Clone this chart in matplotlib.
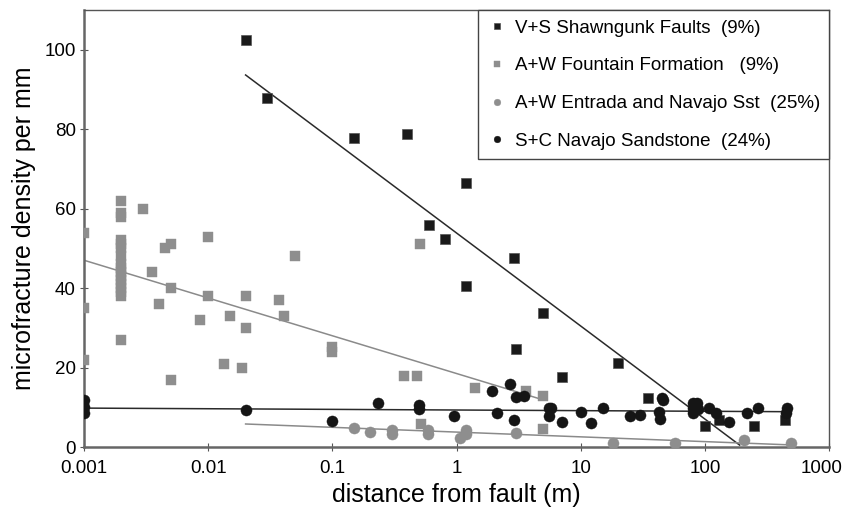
import numpy as np
import matplotlib
matplotlib.use('Agg')
import matplotlib.pyplot as plt
import matplotlib.transforms as mtransforms
from matplotlib.ticker import FixedLocator, NullLocator

plt.rcParams['font.family'] = ['Liberation Sans', 'DejaVu Sans']

# V+S Shawangunk Faults
vs_x = [0.02, 0.03, 0.15, 0.40, 1.2, 0.6, 0.81, 2.9, 1.2, 5.0, 3.0, 20, 7.1, 35, 100, 129, 247, 437]
vs_y = [102.5, 88, 77.8, 78.7, 66.4, 55.8, 52.3, 47.6, 40.5, 33.8, 24.8, 21.1, 17.6, 12.3, 5.3, 6.8, 5.3, 6.8]

# A+W Fountain Formation
fo_x = [0.001, 0.001, 0.001] + [0.002] * 17 + [
    0.003, 0.0035, 0.004, 0.0045, 0.005, 0.005, 0.005, 0.01, 0.01, 0.0086,
    0.015, 0.0134, 0.0186, 0.02, 0.02, 0.037, 0.041, 0.05,
    0.1, 0.1, 0.51, 0.375, 0.48, 1.4, 3.6, 5.0, 0.52, 5.0]
fo_y = [54, 35, 22, 62, 59, 58, 52, 51, 50, 48, 46, 45, 44, 43, 42, 41, 40, 39, 38, 27,
        60, 44, 36, 50, 51, 40, 17, 53, 38, 32,
        33, 21, 20, 38, 30, 37, 33, 48,
        25.3, 23.8, 51, 18, 18, 14.8, 14, 12.9, 5.8, 4.5]

# A+W Entrada and Navajo Sst
en_x = [0.15, 0.2, 0.3, 0.3, 0.59, 0.59, 1.06, 1.2, 1.2, 3.0, 18, 57, 204, 493]
en_y = [4.7, 3.9, 4.3, 3.3, 4.3, 3.3, 2.2, 4.3, 3.3, 3.5, 1.1, 0.9, 1.8, 1.1]

# S+C Navajo Sandstone
sc_x = [0.001, 0.001, 0.001, 0.02, 0.1, 0.233, 0.5, 0.5, 0.95, 1.93, 2.13, 2.71, 3.0,
        3.47, 2.88, 5.5, 5.5, 5.8, 7.0, 10, 12.1, 15.1, 24.7, 30.1, 42.3, 43, 44.6,
        45.5, 80, 86, 80, 87, 80, 107, 123, 155, 217, 269, 458, 450]
sc_y = [11.9, 10.2, 8.5, 9.2, 6.6, 11.2, 10.6, 9.5, 7.8, 14.0, 8.5, 15.8, 12.5,
        12.9, 6.8, 9.8, 7.7, 9.8, 6.4, 8.7, 6.0, 9.8, 7.9, 8.1, 8.7, 7.0, 12.3,
        11.9, 11.0, 11.1, 8.5, 9.5, 9.8, 9.8, 8.5, 6.4, 8.5, 9.8, 9.8, 8.5]

# trend lines: y = a + b*log10(x) over [x0, x1]
vs_fit = [53.87, -23.43, 0.02, 190]
fo_fit = [18.5, -9.51, 0.001, 4.8]
en_fit = [3.76, -1.2, 0.02, 500]
sc_fit = [9.32, -0.16, 0.001, 450]

fig = plt.figure(figsize=(8.45, 5.07), dpi=100)
ax = fig.add_axes([0.0994, 0.1183, 0.8820, 0.8617])


def trend(fit, color):
    a, b, x0, x1 = fit
    xs = np.array([x0, x1])
    ax.plot(xs, a + b * np.log10(xs), color=color, lw=1.1, zorder=2)


trend(vs_fit, '#2a2a2a')
trend(fo_fit, '#8a8a8a')
trend(en_fit, '#8a8a8a')
trend(sc_fit, '#2a2a2a')

ax.plot(vs_x, vs_y, 's', color='#1a1a1a', ms=7.5, mec='#555555', mew=0.5,
        label='V+S Shawngunk Faults  (9%)', zorder=3)
ax.plot(fo_x, fo_y, 's', color='#8e8e8e', ms=7.5, mec='#8e8e8e', mew=0.3,
        label='A+W Fountain Formation   (9%)', zorder=3)
ax.plot(en_x, en_y, 'o', color='#8e8e8e', ms=8, mec='#8e8e8e', mew=0.3,
        label='A+W Entrada and Navajo Sst  (25%)', zorder=3)
ax.plot(sc_x, sc_y, 'o', color='#151515', ms=8, mec='#151515', mew=0.3,
        label='S+C Navajo Sandstone  (24%)', zorder=3)

ax.set_xscale('log')
ax.set_xlim(0.001, 1000)
ax.set_ylim(0, 110)
ax.xaxis.set_major_locator(FixedLocator([0.001, 0.01, 0.1, 1, 10, 100, 1000]))
ax.xaxis.set_minor_locator(NullLocator())
ax.set_xticklabels(['0.001', '0.01', '0.1', '1', '10', '100', '1000'])
ax.set_yticks([0, 20, 40, 60, 80, 100])
ax.tick_params(labelsize=13.5, direction='inout', length=6, width=0.8, colors='#555555',
               labelcolor='black')
ax.tick_params(axis='x', pad=6)
ax.tick_params(axis='y', pad=3)

# last x label sits a little left so it stays inside the figure
last = ax.get_xticklabels()[-1]
last.set_transform(last.get_transform() + mtransforms.ScaledTranslation(-0.08, 0, fig.dpi_scale_trans))

for side in ['left', 'bottom']:
    ax.spines[side].set_linewidth(1.8)
    ax.spines[side].set_color('#666666')
for side in ['top', 'right']:
    ax.spines[side].set_linewidth(1.0)
    ax.spines[side].set_color('#555555')

ax.set_xlabel('distance from fault (m)', fontsize=18, labelpad=5)
ax.set_ylabel('microfracture density per mm', fontsize=18, labelpad=6)

leg = ax.legend(loc='upper right', bbox_to_anchor=(1.0, 1.0), fontsize=13.5, markerscale=0.6,
                handlelength=1.0, handletextpad=0.45, labelspacing=1.1, borderpad=0.5,
                fancybox=False, framealpha=1, edgecolor='#444444', borderaxespad=0)
leg.get_frame().set_linewidth(1.0)

fig.savefig('out.png', dpi=100)
